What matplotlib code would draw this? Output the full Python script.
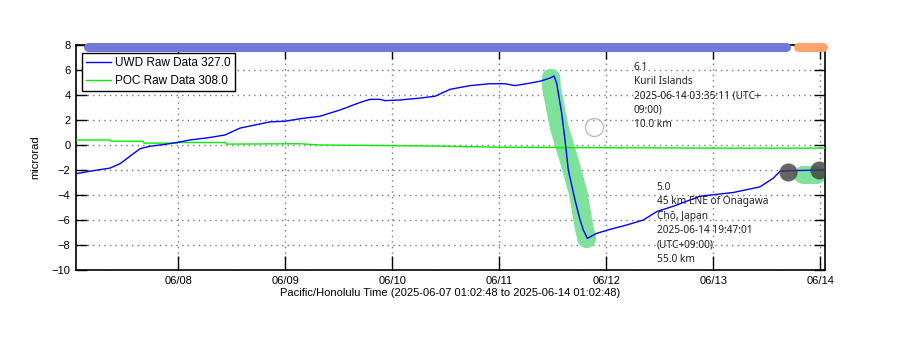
import numpy as np
import pandas as pd
import matplotlib
matplotlib.use("Agg")
import matplotlib.pyplot as plt
import matplotlib.dates as mdates

plt.rcParams['font.family'] = ['Liberation Sans', 'DejaVu Sans']

# time window shown
t_start = pd.Timestamp("2025-06-07 01:02:48")
t_end = pd.Timestamp("2025-06-14 01:02:48")

# UWD raw tilt (microrad)
uwd_time = ["06-07 01:03", "06-07 04:11", "06-07 08:40", "06-07 10:55", "06-07 13:10",
            "06-07 15:24", "06-07 17:39", "06-07 21:01", "06-07 23:42", "06-08 02:37",
            "06-08 07:06", "06-08 10:28", "06-08 13:50", "06-08 17:12", "06-08 20:33",
            "06-08 23:55", "06-09 03:17", "06-09 07:47", "06-09 12:16", "06-09 16:45",
            "06-09 18:59", "06-09 21:14", "06-09 22:21", "06-10 01:43", "06-10 06:12",
            "06-10 09:34", "06-10 12:56", "06-10 17:25", "06-10 21:54", "06-11 01:16",
            "06-11 03:31", "06-11 06:53", "06-11 09:07", "06-11 11:22", "06-11 12:16",
            "06-11 12:52", "06-11 13:59", "06-11 14:44", "06-11 15:28", "06-11 16:58",
            "06-11 18:06", "06-11 18:50", "06-11 19:44", "06-11 21:50", "06-12 00:49",
            "06-12 04:34", "06-12 08:18", "06-12 11:18", "06-12 15:01", "06-12 21:01",
            "06-13 04:29", "06-13 10:28", "06-13 13:27", "06-13 14:57", "06-13 17:56",
            "06-14 01:02"]
uwd_val = [-2.3, -2.1, -1.85, -1.5, -0.9,
           -0.3, -0.1, 0.05, 0.2, 0.4,
           0.6, 0.8, 1.35, 1.6, 1.85,
           1.9, 2.1, 2.3, 2.8, 3.4,
           3.65, 3.65, 3.55, 3.6, 3.75,
           3.9, 4.45, 4.75, 4.9, 4.9,
           4.75, 4.95, 5.1, 5.35, 5.52,
           4.93, 2.53, 0.4, -2.0, -4.4,
           -6.0, -6.8, -7.47, -7.07, -6.75,
           -6.4, -6.0, -5.33, -4.9, -4.1,
           -3.8, -3.35, -2.65, -2.1, -2.05,
           -2.0]

# POC raw tilt (microrad)
poc_time = ["06-07 01:03", "06-07 08:40", "06-07 09:00", "06-07 16:00", "06-07 16:20",
            "06-07 23:42", "06-08 00:00", "06-08 10:28", "06-08 10:50", "06-09 03:17",
            "06-09 07:47", "06-10 00:00", "06-10 12:00", "06-11 00:00", "06-11 12:00",
            "06-12 00:00", "06-13 00:00", "06-14 01:02"]
poc_val = [0.4, 0.4, 0.3, 0.3, 0.15,
           0.15, 0.2, 0.2, 0.07, 0.1,
           0.0, -0.05, -0.1, -0.18, -0.2,
           -0.22, -0.25, -0.25]

# highlighted signal segments
hl1_time = ["06-11 11:35", "06-11 11:40", "06-11 13:23", "06-11 15:38",
            "06-11 17:43", "06-11 18:59", "06-11 19:36"]
hl1_val = [5.35, 4.67, 1.47, -1.2, -3.87, -6.53, -7.5]
hl2_time = ["06-13 20:06", "06-13 23:15"]
hl2_val = [-2.4, -2.4]

# earthquake markers
quake_time = ["06-13 16:45", "06-13 23:41"]
quake_val = [-2.13, -2.0]
open_time = ["06-11 21:14"]
open_val = [1.47]

# availability bars along the top
bar_blue = ["06-07 03:44", "06-13 16:17"]
bar_orange = ["06-13 18:59", "06-14 00:36"]
bar_level = 7.85

quake1_text = "6.1\nKuril Islands\n2025-06-14 03:35:11 (UTC+\n09:00)\n10.0 km"
quake1_pos = ("06-12 06:12", 6.65)
quake2_text = "5.0\n45 km ENE of Onagawa\nChō, Japan\n2025-06-14 19:47:01\n(UTC+09:00)\n55.0 km"
quake2_pos = ("06-12 11:18", -2.95)


def tt(lst):
    return pd.to_datetime(["2025-" + s for s in lst])


fig = plt.figure(figsize=(9, 3.52), dpi=100)
ax = fig.add_axes([0.0844, 0.233, 0.8323, 0.6392])

ax.plot(tt(hl1_time), hl1_val, color="#7ee29a", lw=13.5, solid_capstyle="round",
        solid_joinstyle="round", zorder=2)
ax.plot(tt(hl2_time), hl2_val, color="#7ee29a", lw=13, solid_capstyle="round", zorder=2)

ax.plot(tt(poc_time), poc_val, color="#00ee00", lw=1, label="POC Raw Data 308.0", zorder=3)
ax.plot(tt(uwd_time), uwd_val, color="#0000ff", lw=1, label="UWD Raw Data 327.0", zorder=4)

ax.plot(tt(quake_time), quake_val, "o", ms=13, color="#404040", alpha=0.8, mec="none", zorder=5)
ax.plot(tt(open_time), open_val, "o", ms=13, mfc="none", mec="#bbbbcc", mew=1, zorder=5)

ax.plot(tt(bar_blue), [bar_level] * 2, color="#7078d8", lw=6.5, solid_capstyle="round",
        clip_on=False, zorder=6)
ax.plot(tt(bar_orange), [bar_level] * 2, color="#ffa46c", lw=6.5, solid_capstyle="round",
        clip_on=False, zorder=6)

for txt, pos in [(quake1_text, quake1_pos), (quake2_text, quake2_pos)]:
    ax.text(pd.Timestamp("2025-" + pos[0]), pos[1], txt, fontsize=7.3, va="top", ha="left",
            family=["Noto Sans", "DejaVu Sans"], linespacing=1.42, color="#222222", zorder=7)

ax.set_xlim(t_start, t_end)
ax.set_ylim(-10, 8)
ax.set_yticks(np.arange(-10, 9, 2))
ax.xaxis.set_major_locator(mdates.DayLocator())
ax.xaxis.set_major_formatter(mdates.DateFormatter("%m/%d"))
ax.tick_params(direction="in", length=8, width=1, labelsize=8, top=True, right=True, pad=4)
ax.tick_params(axis="x", length=10)
ax.grid(True, linestyle=(0, (1, 3)), color="#777777", lw=1)
for s in ax.spines.values():
    s.set_linewidth(1.2)

ax.set_ylabel("microrad", fontsize=8, labelpad=8)
ax.set_xlabel("Pacific/Honolulu Time (2025-06-07 01:02:48 to 2025-06-14 01:02:48)",
              fontsize=8, labelpad=2)

handles, labels = ax.get_legend_handles_labels()
leg = ax.legend(handles[::-1], labels[::-1], loc="upper left", fontsize=8.5, fancybox=False,
                framealpha=1, edgecolor="black", bbox_to_anchor=(0.0076, 0.966),
                borderaxespad=0, handlelength=2.1, handletextpad=0.3,
                borderpad=0.4, labelspacing=0.45)
leg.get_frame().set_linewidth(1)
leg.set_zorder(8)

fig.savefig("out.png", dpi=100)
